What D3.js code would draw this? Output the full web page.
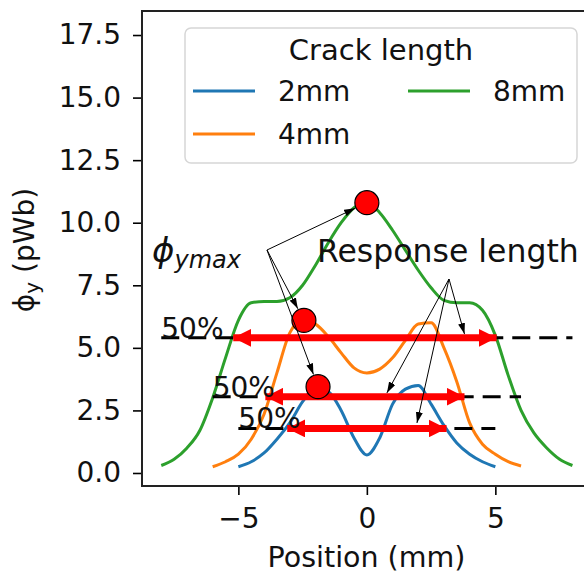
<!DOCTYPE html>
<html>
<head>
<meta charset="utf-8">
<script src="https://cdn.jsdelivr.net/npm/d3@7"></script>
<style>
  body { margin: 0; background: #fff; }
  text { font-family: "DejaVu Sans", sans-serif; }
</style>
</head>
<body>
<div id="chart"></div>
<script>
// Crack length series (position mm -> phi_y pWb)
const x2 = [-5, -4.5, -4, -3.5, -3, -2.5, -2, -1.5, -1, -0.5, 0, 0.5, 1, 1.5, 2, 2.5, 3, 3.5, 4, 4.5, 5];
const y2 = [0.25, 0.45, 0.8, 1.35, 2.0, 2.85, 3.4, 3.25, 2.5, 1.4, 0.72, 1.4, 2.75, 3.35, 3.5, 2.75, 1.9, 1.2, 0.75, 0.45, 0.25];

const x4 = [-6, -5.5, -5, -4.5, -4, -3.5, -3, -2.5, -2, -1.5, -1, -0.5, 0, 0.5, 1, 1.5, 2, 2.5, 3, 3.5, 4, 4.5, 5, 5.5, 6];
const y4 = [0.25, 0.45, 0.75, 1.35, 2.35, 4.0, 5.6, 6.1, 5.95, 5.45, 4.8, 4.2, 4.0, 4.15, 4.6, 5.3, 5.95, 6.0, 5.0, 3.65, 2.0, 1.15, 0.75, 0.45, 0.28];

const x8 = [-8, -7.5, -7, -6.5, -6, -5.5, -5, -4.5, -4, -3.5, -3, -2.5, -2, -1.5, -1, -0.5, 0, 0.5, 1, 1.5, 2, 2.5, 3, 3.5, 4, 4.5, 5, 5.5, 6, 6.5, 7, 7.5, 8];
const y8 = [0.3, 0.55, 1.0, 1.7, 3.0, 4.6, 6.1, 6.8, 6.85, 6.85, 7.0, 7.5, 8.3, 9.2, 10.0, 10.6, 10.8, 10.4, 9.7, 8.9, 8.1, 7.4, 6.9, 6.8, 6.8, 6.5, 5.5, 3.9, 2.5, 1.6, 1.0, 0.55, 0.3];

const seriesNames = ["2mm", "4mm", "8mm"];
const seriesColors = ["#1f77b4", "#ff7f0e", "#2ca02c"];

// peaks (phi_ymax) and half-maximum response lengths, per series
const peakX = [-1.9, -2.45, 0];
const peakY = [3.45, 6.1, 10.8];
const halfY = [1.78, 3.05, 5.4];
const arrowLeft = [-3.1, -3.95, -5.2];
const arrowRight = [3.1, 3.8, 5.05];
const dashStart = [-5, -6, -8];
const dashEnd = [5, 6, 8];

// where the "Response length" pointers land (data coords)
const respX = [3.8, 0.78, 1.95];
const respY = [5.55, 3.2, 2.0];

const yTicks = [0, 2.5, 5, 7.5, 10, 12.5, 15, 17.5];
const xTicks = [-5, 0, 5];

const width = 584, height = 574;
const margin = {top: 11, right: -9, bottom: 88, left: 142};
const fs = 28;

const svg = d3.select("#chart").append("svg")
    .attr("width", width)
    .attr("height", height)
    .attr("viewBox", [0, 0, width, height]);

const x = d3.scaleLinear([-8.75, 8.8], [margin.left, width - margin.right]);
const y = d3.scaleLinear([-0.52, 18.46], [height - margin.bottom, margin.top]);

const defs = svg.append("defs");
defs.append("marker")
    .attr("id", "redhead")
    .attr("viewBox", "0 -9 18 18")
    .attr("refX", 18).attr("refY", 0)
    .attr("markerWidth", 18).attr("markerHeight", 18)
    .attr("markerUnits", "userSpaceOnUse")
    .attr("orient", "auto-start-reverse")
  .append("path")
    .attr("d", "M0,-9L18,0L0,9Z")
    .attr("fill", "red");
defs.append("marker")
    .attr("id", "blackhead")
    .attr("viewBox", "0 -4 11 8")
    .attr("refX", 11).attr("refY", 0)
    .attr("markerWidth", 11).attr("markerHeight", 8)
    .attr("markerUnits", "userSpaceOnUse")
    .attr("orient", "auto")
  .append("path")
    .attr("d", "M0,-3.5L11,0L0,3.5Z")
    .attr("fill", "black");

// axes
svg.append("g")
    .attr("transform", `translate(${margin.left},0)`)
    .call(d3.axisLeft(y).tickValues(yTicks).tickFormat(d3.format(".1f")).tickSize(9).tickPadding(12))
    .call(g => g.select(".domain").remove())
    .call(g => g.selectAll(".tick line").attr("stroke-width", 1.6))
    .call(g => g.selectAll("text").attr("font-size", fs).attr("font-family", "DejaVu Sans").attr("fill", "#111"));

svg.append("g")
    .attr("transform", `translate(0,${height - margin.bottom})`)
    .call(d3.axisBottom(x).tickValues(xTicks).tickFormat(d => d < 0 ? "\u2212" + Math.abs(d) : d).tickSize(9).tickPadding(13))
    .call(g => g.select(".domain").remove())
    .call(g => g.selectAll(".tick line").attr("stroke-width", 1.6))
    .call(g => g.selectAll("text").attr("font-size", fs).attr("font-family", "DejaVu Sans").attr("fill", "#111"));

// curves
const line = d3.line().curve(d3.curveMonotoneX);
const series = [[x2, y2], [x4, y4], [x8, y8]];
svg.append("g")
    .attr("fill", "none")
    .attr("stroke-width", 3)
    .attr("stroke-linejoin", "round")
  .selectAll("path")
  .data(series)
  .join("path")
    .attr("stroke", (d, i) => seriesColors[i])
    .attr("d", ([xs, ys]) => line(xs.map((v, i) => [x(v), y(ys[i])])));

// dashed 50% lines
svg.append("g")
    .attr("stroke", "black")
    .attr("stroke-width", 3)
    .attr("stroke-dasharray", "18,9")
  .selectAll("line")
  .data(d3.range(3))
  .join("line")
    .attr("x1", i => x(dashStart[i]))
    .attr("x2", i => x(dashEnd[i]))
    .attr("y1", i => y(halfY[i]))
    .attr("y2", i => y(halfY[i]));

// red response-length arrows
svg.append("g")
    .attr("stroke", "red")
    .attr("stroke-width", 7)
  .selectAll("line")
  .data(d3.range(3))
  .join("line")
    .attr("x1", i => x(arrowLeft[i]))
    .attr("x2", i => x(arrowRight[i]))
    .attr("y1", i => y(halfY[i]))
    .attr("y2", i => y(halfY[i]))
    .attr("marker-start", "url(#redhead)")
    .attr("marker-end", "url(#redhead)");

// 50% labels
svg.append("g")
    .attr("font-size", fs)
    .attr("fill", "#111")
  .selectAll("text")
  .data(d3.range(3))
  .join("text")
    .attr("x", i => x(dashStart[i]))
    .attr("y", i => y(halfY[i]))
    .text("50%");

// peak markers
svg.append("g")
    .attr("fill", "red")
    .attr("stroke", "black")
    .attr("stroke-width", 1.2)
  .selectAll("circle")
  .data(d3.range(3))
  .join("circle")
    .attr("cx", i => x(peakX[i]))
    .attr("cy", i => y(peakY[i]))
    .attr("r", 12);

// phi_ymax annotation
const phiOrigin = [267, 250];
const towardCircle = (i, k) => {
  const cx = x(peakX[i]), cy = y(peakY[i]);
  const dx = cx - phiOrigin[0], dy = cy - phiOrigin[1], L = Math.hypot(dx, dy);
  return k === 0 ? cx - dx / L * 13 : cy - dy / L * 13;
};
svg.append("g")
    .attr("stroke", "black")
    .attr("stroke-width", 1)
  .selectAll("line")
  .data(d3.range(3))
  .join("line")
    .attr("x1", phiOrigin[0])
    .attr("y1", phiOrigin[1])
    .attr("x2", i => towardCircle(i, 0))
    .attr("y2", i => towardCircle(i, 1))
    .attr("marker-end", "url(#blackhead)");

const phi = svg.append("text")
    .attr("x", 152)
    .attr("y", 262)
    .attr("font-family", "DejaVu Serif")
    .attr("font-style", "italic")
    .attr("font-size", 34)
    .attr("fill", "#111");
phi.append("tspan").text("\u03d5");
phi.append("tspan").attr("dy", 6).attr("font-size", 24).text("ymax");

// Response length annotation
const respOrigin = [449, 279];
svg.append("g")
    .attr("stroke", "black")
    .attr("stroke-width", 1)
  .selectAll("line")
  .data(d3.range(3))
  .join("line")
    .attr("x1", respOrigin[0])
    .attr("y1", respOrigin[1])
    .attr("x2", i => x(respX[i]))
    .attr("y2", i => y(respY[i]))
    .attr("marker-end", "url(#blackhead)");

svg.append("text")
    .attr("x", 317)
    .attr("y", 262)
    .attr("font-size", 31.5)
    .attr("fill", "#111")
    .text("Response length");

// spines
svg.append("rect")
    .attr("x", margin.left)
    .attr("y", margin.top)
    .attr("width", width - margin.right - margin.left)
    .attr("height", height - margin.bottom - margin.top)
    .attr("fill", "none")
    .attr("stroke", "#222")
    .attr("stroke-width", 2);

// legend
const lg = svg.append("g");
lg.append("rect")
    .attr("x", 185).attr("y", 28)
    .attr("width", 392).attr("height", 135)
    .attr("rx", 6)
    .attr("fill", "white").attr("fill-opacity", 0.8)
    .attr("stroke", "#d6d6d6").attr("stroke-width", 1.5);
lg.append("text")
    .attr("x", 381).attr("y", 60)
    .attr("text-anchor", "middle")
    .attr("font-size", 29)
    .attr("fill", "#111")
    .text("Crack length");
const legendPos = [[193, 91], [193, 134], [408, 91]];
seriesNames.forEach((name, i) => {
  const [lx, ly] = legendPos[i];
  lg.append("line")
      .attr("x1", lx).attr("x2", lx + 62)
      .attr("y1", ly).attr("y2", ly)
      .attr("stroke", seriesColors[i])
      .attr("stroke-width", 3);
  lg.append("text")
      .attr("x", lx + 85).attr("y", ly + 10)
      .attr("font-size", fs)
      .attr("fill", "#111")
      .text(name);
});

// axis labels
svg.append("text")
    .attr("x", (margin.left + 593) / 2 - 1)
    .attr("y", 567)
    .attr("text-anchor", "middle")
    .attr("font-size", 28.5)
    .attr("fill", "#111")
    .text("Position (mm)");

const yl = svg.append("text")
    .attr("transform", "translate(34,250) rotate(-90)")
    .attr("text-anchor", "middle")
    .attr("font-size", fs)
    .attr("fill", "#111");
yl.append("tspan").text("\u03d5");
yl.append("tspan").attr("dy", 5).attr("font-size", 20).text("y");
yl.append("tspan").attr("dy", -5).text(" (pWb)");
</script>
</body>
</html>
